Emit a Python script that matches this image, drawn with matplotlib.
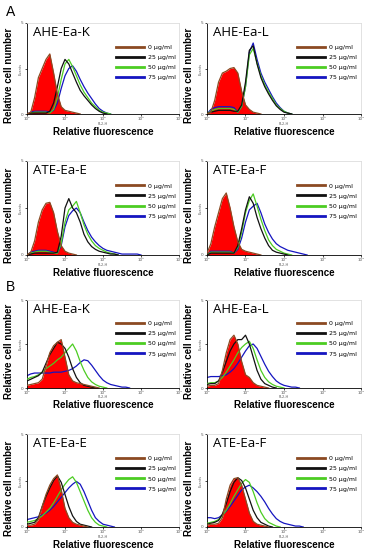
import matplotlib
matplotlib.use("Agg")
import matplotlib.pyplot as plt

# log10 of FL2-H channel for every histogram point
fl2_log = [0.0, 0.1, 0.2, 0.3, 0.4, 0.5, 0.6, 0.7, 0.8, 0.9, 1.0,
           1.1, 1.2, 1.3, 1.4, 1.5, 1.6, 1.7, 1.8, 1.9, 2.0,
           2.1, 2.2, 2.3, 2.4, 2.5, 2.6, 2.7, 2.8, 2.9, 3.0]

doses = ["0 µg/ml", "25 µg/ml", "50 µg/ml", "75 µg/ml"]
panel_names = ["AHE-Ea-K", "AHE-Ea-L", "ATE-Ea-E", "ATE-Ea-F"]

# panel A  (counts in % of axis height)
a_ahe_k_0 = [0, 2, 18, 40, 50, 60, 66, 45, 22, 8, 4, 3, 2, 1, 0]
a_ahe_k_25 = [0, 1, 1, 1, 1, 1, 3, 12, 30, 50, 60, 55, 45, 35, 26, 20, 15, 10, 6, 3, 1, 0]
a_ahe_k_50 = [0, 1, 2, 2, 2, 2, 1, 5, 18, 38, 55, 60, 52, 42, 32, 24, 18, 12, 8, 4, 2, 1, 0]
a_ahe_k_75 = [0, 2, 3, 3, 3, 3, 2, 4, 12, 28, 42, 50, 53, 47, 38, 30, 23, 17, 11, 6, 3, 1, 0]

a_ahe_l_0 = [0, 2, 15, 35, 45, 47, 50, 51, 45, 25, 10, 5, 2, 1, 0]
a_ahe_l_25 = [0, 2, 3, 4, 4, 4, 4, 3, 3, 10, 35, 70, 75, 55, 40, 30, 22, 15, 9, 5, 2, 1, 0]
a_ahe_l_50 = [0, 3, 5, 6, 6, 6, 6, 5, 2, 8, 30, 65, 72, 56, 42, 32, 24, 17, 10, 6, 3, 1, 0]
a_ahe_l_75 = [0, 5, 7, 8, 8, 8, 8, 7, 2, 8, 30, 68, 78, 60, 45, 35, 27, 19, 12, 7, 3, 1, 0]

a_ate_e_0 = [0, 3, 15, 35, 48, 55, 56, 45, 25, 10, 4, 2, 1, 0]
a_ate_e_25 = [0, 1, 2, 2, 2, 2, 2, 2, 3, 20, 50, 60, 50, 45, 35, 22, 14, 9, 6, 4, 3, 2, 1, 1, 0]
a_ate_e_50 = [0, 2, 3, 4, 4, 4, 3, 2, 2, 12, 35, 48, 52, 57, 45, 32, 22, 15, 10, 7, 5, 3, 2, 1, 0]
a_ate_e_75 = [0, 3, 4, 5, 5, 5, 4, 3, 2, 10, 30, 42, 47, 50, 45, 35, 26, 19, 14, 10, 7, 5, 4, 3, 2, 1, 1, 1, 1, 1, 0]

a_ate_f_0 = [2, 12, 30, 45, 60, 66, 50, 30, 14, 6, 4, 3, 2, 1, 0]
a_ate_f_25 = [0, 2, 2, 2, 2, 2, 2, 2, 10, 28, 48, 62, 55, 40, 28, 18, 10, 5, 3, 2, 1, 0]
a_ate_f_50 = [0, 3, 3, 3, 3, 3, 3, 2, 8, 24, 45, 58, 65, 52, 38, 26, 16, 10, 6, 4, 2, 1, 0]
a_ate_f_75 = [0, 4, 4, 4, 4, 4, 4, 2, 6, 18, 35, 48, 52, 55, 45, 33, 24, 17, 12, 9, 7, 5, 4, 3, 2, 1, 0]

# panel B
b_ahe_k_0 = [3, 4, 5, 6, 10, 25, 40, 48, 52, 55, 35, 15, 8, 6, 5, 4, 3, 2, 1, 0]
b_ahe_k_25 = [8, 10, 12, 14, 18, 28, 38, 45, 52, 50, 45, 35, 22, 12, 6, 3, 2, 1, 0]
b_ahe_k_50 = [10, 12, 13, 15, 18, 22, 25, 28, 32, 35, 40, 45, 50, 42, 30, 20, 12, 7, 4, 2, 1, 0]
b_ahe_k_75 = [14, 16, 17, 17, 17, 17, 17, 18, 18, 18, 19, 20, 22, 25, 29, 32, 31, 26, 20, 14, 9, 6, 4, 3, 2, 1, 1, 0]

b_ahe_l_0 = [2, 3, 3, 5, 20, 40, 55, 60, 50, 30, 15, 12, 6, 3, 2, 1, 0]
b_ahe_l_25 = [4, 5, 5, 8, 18, 30, 42, 50, 55, 55, 60, 50, 35, 20, 10, 5, 3, 1, 0]
b_ahe_l_50 = [5, 6, 6, 8, 12, 18, 25, 32, 40, 46, 50, 53, 45, 32, 20, 12, 7, 4, 2, 1, 0]
b_ahe_l_75 = [12, 13, 13, 13, 14, 15, 18, 22, 28, 35, 42, 48, 50, 45, 36, 27, 19, 13, 8, 5, 3, 2, 1, 1, 0]

b_ate_e_0 = [2, 2, 3, 8, 22, 35, 45, 52, 56, 40, 20, 10, 5, 3, 2, 1, 0]
b_ate_e_25 = [3, 4, 5, 10, 22, 33, 42, 50, 55, 48, 35, 22, 12, 6, 3, 2, 1, 0]
b_ate_e_50 = [5, 6, 7, 9, 12, 16, 20, 26, 33, 40, 46, 51, 54, 48, 38, 28, 18, 10, 5, 2, 1, 0]
b_ate_e_75 = [8, 9, 10, 11, 13, 15, 18, 22, 27, 32, 37, 42, 46, 49, 46, 38, 28, 18, 10, 6, 3, 2, 1, 0]

b_ate_f_0 = [2, 3, 3, 4, 10, 30, 45, 52, 53, 45, 30, 15, 6, 3, 2, 1, 0]
b_ate_f_25 = [3, 4, 5, 7, 14, 25, 38, 48, 53, 50, 42, 30, 18, 10, 5, 3, 1, 0]
b_ate_f_50 = [4, 5, 6, 8, 12, 18, 25, 33, 40, 47, 51, 48, 38, 26, 16, 9, 5, 3, 1, 0]
b_ate_f_75 = [10, 10, 9, 10, 13, 17, 22, 28, 34, 40, 43, 45, 42, 38, 33, 27, 20, 14, 9, 6, 4, 3, 2, 1, 1, 0]

panel_a = [(a_ahe_k_0, a_ahe_k_25, a_ahe_k_50, a_ahe_k_75),
           (a_ahe_l_0, a_ahe_l_25, a_ahe_l_50, a_ahe_l_75),
           (a_ate_e_0, a_ate_e_25, a_ate_e_50, a_ate_e_75),
           (a_ate_f_0, a_ate_f_25, a_ate_f_50, a_ate_f_75)]
panel_b = [(b_ahe_k_0, b_ahe_k_25, b_ahe_k_50, b_ahe_k_75),
           (b_ahe_l_0, b_ahe_l_25, b_ahe_l_50, b_ahe_l_75),
           (b_ate_e_0, b_ate_e_25, b_ate_e_50, b_ate_e_75),
           (b_ate_f_0, b_ate_f_25, b_ate_f_50, b_ate_f_75)]

colors = ["#8b4a22", "#111111", "#4ccc22", "#1515c0"]

W, H = 371, 550
# axes boxes in pixels: left/right per column, top/bottom per row
col_x = [(27, 179), (207, 361)]
row_y = [(23, 114), (161, 255), (300, 388), (434, 527)]


def draw_panel(ax, name, series):
    ctrl = series[0]
    xs = [10 ** v for v in fl2_log[:len(ctrl)]]
    ax.fill_between(xs, ctrl, color="#ff0000", lw=0, zorder=1)
    # 75, 50, 25 underneath, control outline on top
    for vals, col, z in [(series[3], colors[3], 2), (series[2], colors[2], 3),
                         (series[1], colors[1], 4), (series[0], colors[0], 5)]:
        xv = [10 ** v for v in fl2_log[:len(vals)]]
        ax.plot(xv, vals, color=col, lw=0.9, zorder=z)
    ax.set_xscale("log")
    ax.set_xlim(1, 1e4)
    ax.set_ylim(0, 100)
    ax.set_xticks([1, 10, 100, 1000, 10000])
    ax.set_xticklabels(["10⁰", "10¹", "10²", "10³", "10⁴"], fontsize=3, color="#555555")
    ax.minorticks_off()
    ax.set_yticks([0, 50, 100])
    ax.set_yticklabels(["0", "", "5"], fontsize=3, color="#555555")
    ax.tick_params(length=1.5, width=0.5, pad=1)
    for s in ["top", "right"]:
        ax.spines[s].set_color("#dddddd")
        ax.spines[s].set_linewidth(0.6)
    for s in ["left", "bottom"]:
        ax.spines[s].set_linewidth(0.6)
    ax.text(0.04, 0.97, name, transform=ax.transAxes, ha="left", va="top",
            fontsize=9.5, family="Open Sans")
    ax.text(0.5, -0.085, "FL2-H", transform=ax.transAxes, ha="center", va="top",
            fontsize=2.5, color="#555555")
    ax.text(-0.04, 0.5, "Events", transform=ax.transAxes, ha="center", va="center",
            rotation=90, fontsize=2.5, color="#555555")
    ax.text(0.5, -0.14, "Relative fluorescence", transform=ax.transAxes, ha="center",
            va="top", fontsize=7, fontweight="bold", family="Liberation Sans")
    ax.text(-0.12, 0.42, "Relative cell number", transform=ax.transAxes, ha="center",
            va="center", rotation=90, fontsize=7, fontweight="bold", family="Liberation Sans")
    handles = [plt.Line2D([], [], color=c, lw=2) for c in colors]
    ax.legend(handles, doses, loc="upper left", bbox_to_anchor=(0.57, 0.79),
              frameon=False, fontsize=4.5, handlelength=4.5, handletextpad=0.6,
              labelspacing=0.75, borderaxespad=0)


fig = plt.figure(figsize=(W / 100, H / 100), dpi=100)
all_panels = panel_a + panel_b
for i, series in enumerate(all_panels):
    r = i // 2
    c = i % 2
    x0, x1 = col_x[c]
    y0, y1 = row_y[r]
    ax = fig.add_axes([x0 / W, 1 - y1 / H, (x1 - x0) / W, (y1 - y0) / H])
    draw_panel(ax, panel_names[i % 4], series)

fig.text(6 / W, 1 - 12 / H, "A", fontsize=10, va="center", ha="left", family="Liberation Sans")
fig.text(6 / W, 1 - 287 / H, "B", fontsize=10, va="center", ha="left", family="Liberation Sans")

fig.savefig("out.png", dpi=100)
